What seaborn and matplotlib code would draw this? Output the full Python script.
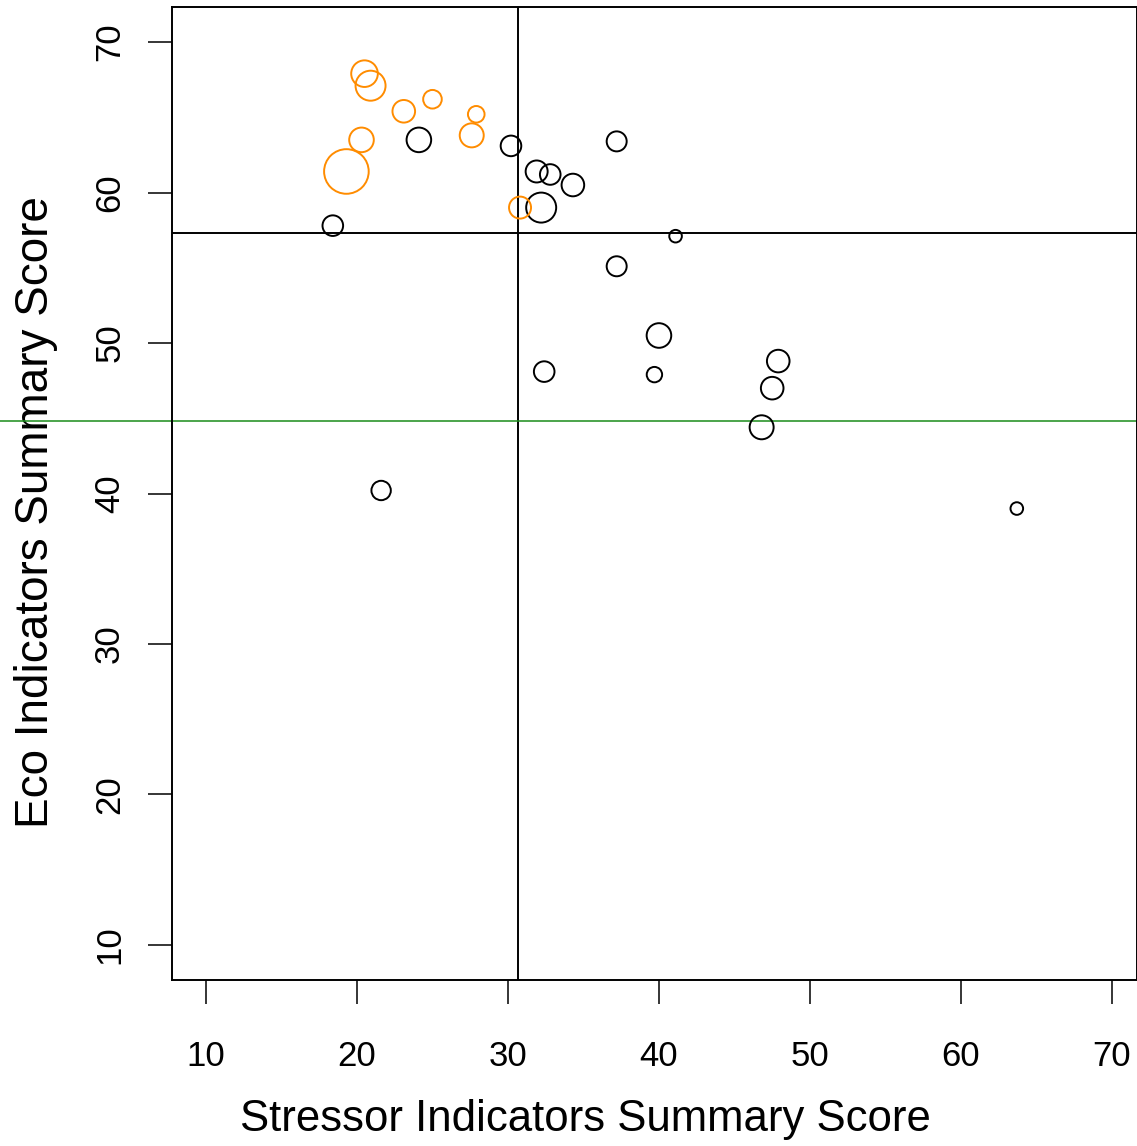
import numpy as np
import pandas as pd
import matplotlib
matplotlib.use("Agg")
import matplotlib.pyplot as plt
import seaborn as sns

# stressor (x), eco (y), relative circle size, group
stressor = [20.5, 20.9, 23.1, 25.0, 27.9, 27.6, 20.3, 19.3, 30.8,
            24.1, 30.2, 18.4, 37.2, 31.9, 32.8, 34.3, 32.2, 41.1, 37.2,
            32.4, 40.0, 39.7, 47.9, 47.5, 46.8, 21.6, 63.7]
eco = [67.9, 67.1, 65.4, 66.2, 65.2, 63.8, 63.5, 61.4, 59.0,
       63.5, 63.1, 57.8, 63.4, 61.4, 61.2, 60.5, 59.0, 57.1, 55.1,
       48.1, 50.5, 47.9, 48.8, 47.0, 44.4, 40.2, 39.0]
radius = [13.3, 15.0, 11.3, 9.3, 8.3, 12.0, 12.3, 22.3, 11.0,
          12.3, 10.3, 10.3, 10.0, 11.0, 10.3, 11.3, 15.0, 6.3, 10.0,
          10.3, 12.3, 7.7, 11.3, 11.3, 12.0, 9.7, 6.3]
group = ["orange"] * 9 + ["black"] * 18

stressor_mean = 30.66
eco_mean = 57.3
eco_ref = 44.8

df = pd.DataFrame({"stressor": stressor, "eco": eco, "radius": radius, "group": group})

sns.set_style("ticks")
plt.rcParams["font.family"] = ["Liberation Sans", "DejaVu Sans"]
plt.rcParams["text.color"] = "black"
plt.rcParams["axes.labelcolor"] = "black"
plt.rcParams["xtick.color"] = "black"
plt.rcParams["ytick.color"] = "black"

fig = plt.figure(figsize=(11.37, 11.46), dpi=100)
ax = fig.add_axes([172 / 1137, 1 - 980 / 1146, (1137 - 172) / 1137, (980 - 7) / 1146])

colors = {"orange": "#ff8c00", "black": "black"}
for g in ["black", "orange"]:
    sub = df[df["group"] == g]
    s = (2 * sub["radius"].values * 0.72) ** 2
    sns.scatterplot(data=sub, x="stressor", y="eco", ax=ax, s=s,
                    facecolors="none", edgecolor=colors[g], linewidth=1.4,
                    legend=False, zorder=3)

ax.axvline(stressor_mean, color="black", lw=1.4, zorder=2)
ax.axhline(eco_mean, color="black", lw=1.4, zorder=2)
ax.axhline(eco_ref, xmin=-172 / 965, xmax=1, color="#1a8c1a", lw=1.1,
           clip_on=False, zorder=2)

ax.set_xlim(7.75, 71.66)
ax.set_ylim(7.67, 72.33)
ax.set_xticks([10, 20, 30, 40, 50, 60, 70])
ax.set_yticks([10, 20, 30, 40, 50, 60, 70])
for sp in ax.spines.values():
    sp.set_visible(True)
    sp.set_linewidth(1.4)
    sp.set_color("black")
ax.tick_params(axis="both", direction="out", length=17, width=1.1,
               color="black", labelcolor="black", labelsize=25)
ax.tick_params(axis="x", pad=26)
ax.tick_params(axis="y", pad=16)
plt.setp(ax.get_yticklabels(), rotation=90, va="center")

ax.set_xlabel("Stressor Indicators Summary Score", fontsize=31.5, color="black")
ax.set_ylabel("Eco Indicators Summary Score", fontsize=33, color="black")
ax.xaxis.set_label_coords((585 - 172) / 965, (980 - 1120) / 973)
ax.yaxis.set_label_coords((36 - 172) / 965, 1 - (512 - 7) / 973)
ax.xaxis.label.set_va("center")
ax.yaxis.label.set_va("center")

fig.savefig("out.png", dpi=100)
